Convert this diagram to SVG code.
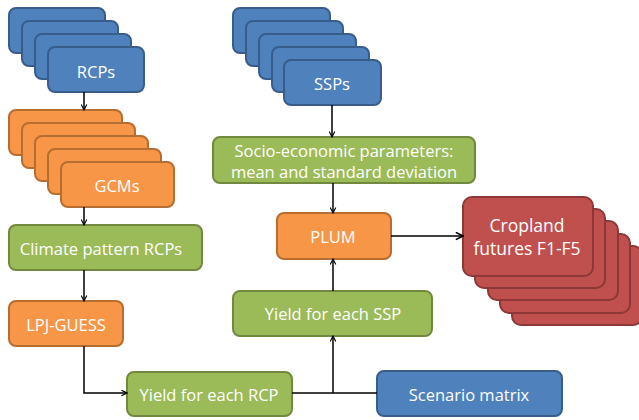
<svg xmlns="http://www.w3.org/2000/svg" width="639" height="420" viewBox="0 0 639 420">
<style>
.b{fill:#4F81BD;stroke:#385D8A;stroke-width:2}
.o{fill:#F79646;stroke:#B66D31;stroke-width:2}
.g{fill:#9BBB59;stroke:#71893F;stroke-width:2}
.r{fill:#C0504D;stroke:#8C3836;stroke-width:2}
text{font-family:"Open Sans","Liberation Sans",sans-serif;font-size:16.5px;fill:#fff;text-anchor:middle;dominant-baseline:central}
text.big{font-size:17.5px}
.c{fill:none;stroke:#000;stroke-width:1.5}
</style>
<defs>
<marker id="a" viewBox="0 0 10 10" refX="9" refY="5" markerWidth="7" markerHeight="7" markerUnits="userSpaceOnUse" orient="auto">
<path d="M1,1 L9,5 L1,9" fill="none" stroke="#000" stroke-width="1.6"/>
</marker>
<marker id="a2" viewBox="0 0 10 10" refX="9" refY="5" markerWidth="9" markerHeight="9" markerUnits="userSpaceOnUse" orient="auto">
<path d="M1,1 L9,5 L1,9" fill="none" stroke="#000" stroke-width="1.8"/>
</marker>
</defs>
<g id="rcps">
<rect class="b" x="9" y="8" width="96" height="45" rx="7"/>
<rect class="b" x="22" y="21" width="96" height="45" rx="7"/>
<rect class="b" x="35" y="34" width="96" height="45" rx="7"/>
<rect class="b" x="48" y="47" width="96" height="45" rx="7"/>
<text x="96" y="71">RCPs</text>
</g>
<g id="gcms">
<rect class="o" x="9" y="110" width="113" height="45" rx="7"/>
<rect class="o" x="22" y="123" width="113" height="45" rx="7"/>
<rect class="o" x="35" y="136" width="113" height="45" rx="7"/>
<rect class="o" x="48" y="149" width="113" height="45" rx="7"/>
<rect class="o" x="61" y="162" width="113" height="45" rx="7"/>
<text x="117" y="185">GCMs</text>
</g>
<g id="climate">
<rect class="g" x="9" y="225" width="193" height="45" rx="7"/>
<text x="101" y="248">Climate pattern RCPs</text>
</g>
<g id="lpj">
<rect class="o" x="9" y="301" width="114" height="45" rx="7"/>
<text x="66" y="324">LPJ-GUESS</text>
</g>
<g id="yield-rcp">
<rect class="g" x="127" y="372" width="165" height="44" rx="7"/>
<text x="209" y="394">Yield for each RCP</text>
</g>
<g id="scenario">
<rect class="b" x="377" y="371" width="185" height="45" rx="7"/>
<text x="469" y="394">Scenario matrix</text>
</g>
<g id="yield-ssp">
<rect class="g" x="233" y="291" width="199" height="45" rx="7"/>
<text x="333" y="313">Yield for each SSP</text>
</g>
<g id="plum">
<rect class="o" x="277" y="213" width="114" height="46" rx="7"/>
<text x="333" y="236">PLUM</text>
</g>
<g id="ssps">
<rect class="b" x="233" y="8" width="97" height="45" rx="7"/>
<rect class="b" x="246" y="21" width="97" height="45" rx="7"/>
<rect class="b" x="259" y="34" width="97" height="45" rx="7"/>
<rect class="b" x="272" y="47" width="97" height="45" rx="7"/>
<rect class="b" x="284" y="60" width="97" height="45" rx="7"/>
<text x="332" y="83">SSPs</text>
</g>
<g id="socio">
<rect class="g" x="213" y="137" width="262" height="46" rx="7"/>
<text x="344" y="150">Socio-economic parameters:</text>
<text x="344" y="171">mean and standard deviation</text>
</g>
<g id="cropland">
<rect class="r" x="512" y="246" width="130" height="79" rx="9"/>
<rect class="r" x="500" y="234" width="130" height="79" rx="9"/>
<rect class="r" x="488" y="221" width="130" height="79" rx="9"/>
<rect class="r" x="475" y="209" width="130" height="79" rx="9"/>
<rect class="r" x="463" y="197" width="130" height="79" rx="9"/>
<text class="big" x="527" y="225">Cropland</text>
<text class="big" x="527" y="248">futures F1-F5</text>
</g>
<g id="connectors">
<path class="c" d="M84,92 V110" marker-end="url(#a)"/>
<path class="c" d="M84,207 V225" marker-end="url(#a)"/>
<path class="c" d="M84,270 V301" marker-end="url(#a)"/>
<path class="c" d="M84,346 V393 H127" marker-end="url(#a)"/>
<path class="c" d="M292,393 H377"/>
<path class="c" d="M333,393 V336" marker-end="url(#a)"/>
<path class="c" d="M333,291 V259" marker-end="url(#a)"/>
<path class="c" d="M332,105 V137" marker-end="url(#a)"/>
<path class="c" d="M333,183 V213" marker-end="url(#a)"/>
<path class="c" d="M391,236 H463" stroke-width="2" marker-end="url(#a2)"/>
</g>
</svg>
